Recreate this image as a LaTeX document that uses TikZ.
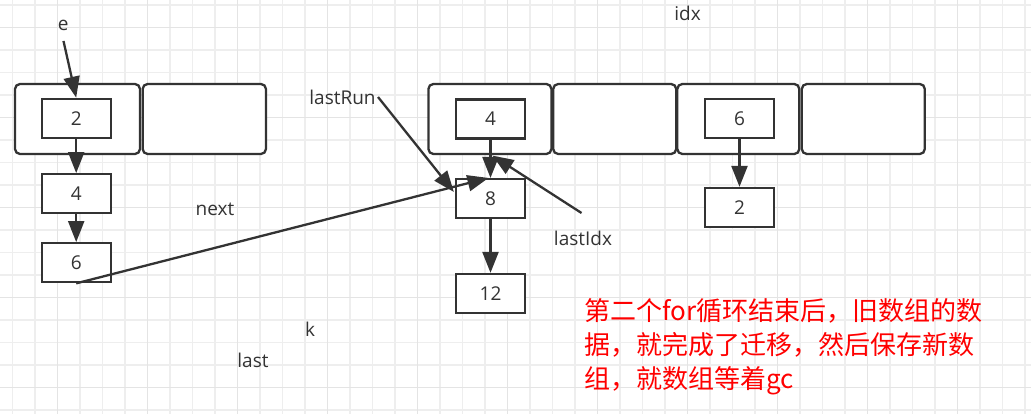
\documentclass[tikz,border=0pt]{standalone}
\usepackage{fontspec}
\setmainfont{Open Sans}
\newfontfamily\cjk{Noto Sans CJK SC}
\usetikzlibrary{arrows.meta,calc}
\definecolor{ink}{HTML}{333333}
\definecolor{gridminor}{HTML}{EEEEEE}
\definecolor{gridmajor}{HTML}{E4E4E4}
\definecolor{note}{HTML}{FF0000}
\begin{document}
\begin{tikzpicture}[x=1pt,y=-1pt,
  cell/.style={draw=ink,line width=2.3pt,rounded corners=5pt,fill=white,minimum height=70pt,inner sep=0pt},
  item/.style={draw=ink,line width=2.3pt,fill=white,minimum width=69pt,minimum height=39pt,inner sep=0pt,text=ink,font=\fontsize{19}{19}\selectfont},
  lbl/.style={text=ink,font=\fontsize{19}{19}\selectfont,inner sep=0pt},
  arr/.style={draw=ink,line width=2.3pt,-{Triangle[length=21pt,width=16pt]}},
]
\useasboundingbox (0,0) rectangle (1031,414);
\fill[white] (0,0) rectangle (1031,414);
% grid
\foreach \k in {0,...,45} \draw[gridminor,line width=1.5pt] ({12.5+22.5*\k},0) -- ({12.5+22.5*\k},414);
\foreach \k in {0,...,18} \draw[gridminor,line width=1.5pt] (0,{4.8+22.5*\k}) -- (1031,{4.8+22.5*\k});
\foreach \k in {2,6,...,42} \draw[gridmajor,line width=1.5pt] ({12.5+22.5*\k},0) -- ({12.5+22.5*\k},414);
\foreach \k in {1,5,...,17} \draw[gridmajor,line width=1.5pt] (0,{4.8+22.5*\k}) -- (1031,{4.8+22.5*\k});

% left array
\node[cell,minimum width=125pt] (a0) at (77.5,119) {};
\node[cell,minimum width=123.3pt] (a1) at (204.3,119) {};
% right array
\node[cell,minimum width=123pt] (b0) at (489.9,119) {};
\node[cell,minimum width=123pt] (b1) at (614.7,119) {};
\node[cell,minimum width=122pt] (b2) at (738.3,119) {};
\node[cell,minimum width=123pt] (b3) at (863.3,119) {};

% items
\node[item] (n2) at (76.2,118.3) {2};
\node[item] (n4) at (76.2,193.7) {4};
\node[item] (n6) at (76.2,262.7) {6};
\node[item] (r4) at (490.5,119) {4};
\node[item] (n8) at (490.5,198.6) {8};
\node[item] (n12) at (490.5,293.5) {12};
\node[item] (r6) at (739.5,118.3) {6};
\node[item] (r2) at (739.5,207.5) {2};

% labels
\node[lbl] (e) at (63.3,25) {e};
\node[lbl] (lastRun) at (342.5,97) {lastRun};
\node[lbl] (next) at (215,209) {next};
\node[lbl] (lastIdx) at (583,238) {lastIdx};
\node[lbl] (idx) at (687.5,13) {idx};
\node[lbl] (k) at (310,329) {k};
\node[lbl] (last) at (253,360) {last};

\coordinate (eTail) at (63.5,41);
\coordinate (lrTail) at (378,97);
\coordinate (liTail) at (581.5,213);
\coordinate (lrHead) at ($(n8.north west)+(-1,14)$);
\coordinate (liHead) at ($(r4.south)+(2,16)$);

% connectors
\draw[arr] (eTail) -- (n2.north);
\draw[arr] (n2) -- (n4);
\draw[arr] (n4) -- (n6);
\draw[arr] (n6.south) -- ($(n8.north)+(-2,0)$);
\draw[arr] (lrTail) -- (lrHead);
\draw[arr] (r4) -- (n8);
\draw[arr] (liTail) -- (liHead);
\draw[arr] (n8) -- (n12);
\draw[arr] (r6) -- (r2);

% note
\node[anchor=north west,inner sep=0pt,align=left,text=note,font=\cjk\fontsize{26}{34}\selectfont] (memo) at (584,298)
  {第二个for循环结束后，旧数组的数\\据，就完成了迁移，然后保存新数\\组，就数组等着gc};
\end{tikzpicture}
\end{document}
